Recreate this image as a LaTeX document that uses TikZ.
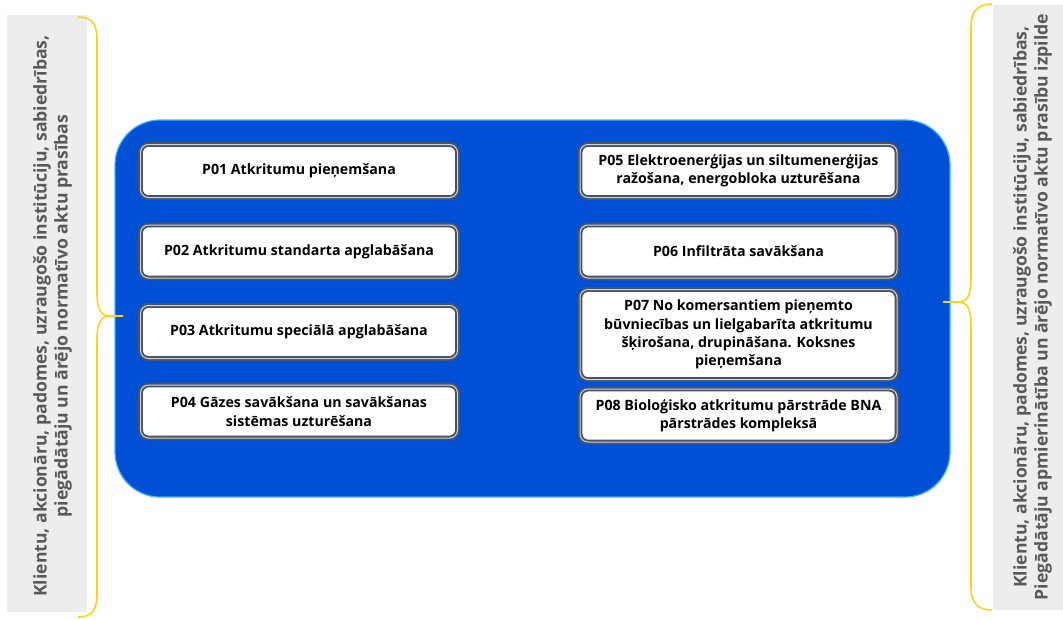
\documentclass[tikz,border=0pt]{standalone}
\usepackage{fontspec}
\setmainfont{Open Sans}
\usetikzlibrary{positioning}
\definecolor{panelblue}{HTML}{0050D6}
\definecolor{paneledge}{HTML}{3FB2F2}
\definecolor{boxedge}{HTML}{4A5363}
\definecolor{boxinner}{HTML}{CDD2D9}
\definecolor{bracegold}{HTML}{FFD21A}
\definecolor{sidegray}{HTML}{EDEDED}
\definecolor{sidetext}{HTML}{595959}
\tikzset{
    proc/.style={draw=boxedge, line width=1.9pt, double=boxinner, double distance=1pt,
        fill=white, rounded corners=8pt, minimum width=317pt, minimum height=53pt,
        align=center, inner sep=2pt, font=\bfseries\fontsize{14.2}{18.3}\selectfont},
    panel/.style={draw=paneledge, line width=1.2pt, fill=panelblue, rounded corners=45pt,
        minimum width=835pt, minimum height=377pt},
    sidebox/.style={fill=sidegray},
    sidenote/.style={rotate=90, align=center, text=sidetext, inner sep=0pt,
        font=\bfseries\fontsize{17.6}{21}\selectfont},
    gbrace/.style={draw=bracegold, line width=1.6pt}
}

\begin{document}
\begin{tikzpicture}[x=1pt,y=-1pt]
\useasboundingbox (0,0) rectangle (1063,619);

\fill[sidebox] (7,15) rectangle (87,612);
\fill[sidebox] (993,5) rectangle (1063,610);

\node[panel] (panel) at (532.5,308.5) {};

\node[proc] (p01) at (299,171) {P01 Atkritumu pieņemšana};
\node[proc, below=25.6pt of p01] (p02) {P02 Atkritumu standarta apglabāšana};
\node[proc, below=25.6pt of p02] (p03) {P03 Atkritumu speciālā apglabāšana};
\node[proc, below=24.6pt of p03] (p04) {P04 Gāzes savākšana un savākšanas\\sistēmas uzturēšana};

\node[proc, right=120.6pt of p01] (p05) {P05 Elektroenerģijas un siltumenerģijas\\ražošana, energobloka uzturēšana};
\node[proc, below=25.6pt of p05] (p06) {P06 Infiltrāta savākšana};
\node[proc, below=9.6pt of p06, minimum height=90pt] (p07) {P07 No komersantiem pieņemto\\būvniecības un lielgabarīta atkritumu\\šķirošana, drupināšana. Koksnes\\pieņemšana};
\node[proc, below=7.6pt of p07] (p08) {P08 Bioloģisko atkritumu pārstrāde BNA\\pārstrādes kompleksā};

\node[sidenote] (leftnote) at (52.5,316) {Klientu, akcionāru, padomes, uzraugošo institūciju, sabiedrības,\\piegādātāju un ārējo normatīvo aktu prasības};
\node[sidenote] (rightnote) at (1032.5,307) {Klientu, akcionāru, padomes, uzraugošo institūciju, sabiedrības,\\Piegādātāju apmierinātība un ārējo normatīvo aktu prasību izpilde};

\draw[gbrace] (78,17) .. controls (92,17) and (97,24) .. (97,40) -- (97,292)
    .. controls (97,310) and (101,316) .. (110,316) -- (123,316);
\draw[gbrace] (123,316) -- (110,316) .. controls (101,316) and (97,322) .. (97,340)
    -- (97,594) .. controls (97,610) and (92,617) .. (78,617);

\draw[gbrace] (992,4) .. controls (978,4) and (971,11) .. (971,27) -- (971,278)
    .. controls (971,296) and (967,302) .. (958,302) -- (943,302);
\draw[gbrace] (943,302) -- (958,302) .. controls (967,302) and (971,308) .. (971,326)
    -- (971,587) .. controls (971,603) and (978,610) .. (992,610);
\end{tikzpicture}
\end{document}
